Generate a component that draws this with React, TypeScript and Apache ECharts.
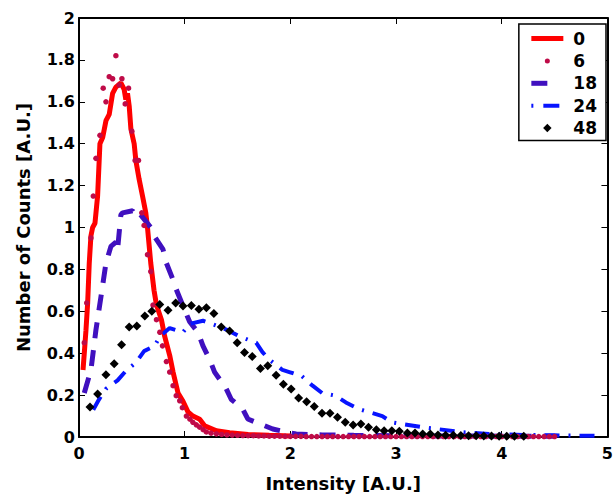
import React, { useEffect, useRef } from 'react';
import * as echarts from 'echarts';

const xTicks = { min: 0, max: 5, interval: 1 };
const yTicks = { min: 0, max: 2, interval: 0.2 };
const legendNames = ['0', '6', '18', '24', '48'];
const xTitle = 'Intensity [A.U.]';
const yTitle = 'Number of Counts [A.U.]';

// series "0" (red solid line)
const series0: [number, number][] = [
  [0.038, 0.32], [0.05, 0.4], [0.066, 0.51], [0.082, 0.64], [0.097, 0.83], [0.113, 0.96],
  [0.129, 1.0], [0.151, 1.02], [0.176, 1.15], [0.198, 1.4], [0.224, 1.43], [0.255, 1.51],
  [0.286, 1.54], [0.318, 1.64], [0.349, 1.67], [0.396, 1.69], [0.427, 1.66], [0.443, 1.61],
  [0.459, 1.64], [0.475, 1.58], [0.491, 1.47], [0.522, 1.4], [0.538, 1.32], [0.569, 1.23],
  [0.601, 1.15], [0.632, 1.07], [0.648, 1.0], [0.679, 0.83], [0.71, 0.7], [0.733, 0.63],
  [0.78, 0.56], [0.811, 0.48], [0.858, 0.39], [0.89, 0.31], [0.937, 0.21], [0.984, 0.17],
  [1.031, 0.12], [1.078, 0.1], [1.142, 0.085], [1.189, 0.054], [1.3, 0.03], [1.425, 0.02],
  [1.6, 0.012], [1.8, 0.008], [2.0, 0.005],
];

// series "6" (crimson dots)
const series6: [number, number][] = [
  [0.05, 0.45], [0.073, 0.64], [0.113, 0.95], [0.135, 1.15], [0.16, 1.33], [0.198, 1.44],
  [0.229, 1.665], [0.255, 1.6], [0.286, 1.72], [0.318, 1.71], [0.349, 1.82], [0.381, 1.68],
  [0.406, 1.71], [0.437, 1.59], [0.469, 1.665], [0.5, 1.46], [0.531, 1.32], [0.563, 1.32],
  [0.594, 1.07], [0.616, 1.01], [0.648, 0.87], [0.679, 0.79], [0.7, 0.63], [0.733, 0.56],
  [0.765, 0.5], [0.79, 0.435], [0.827, 0.36], [0.858, 0.31], [0.89, 0.245], [0.92, 0.197],
  [0.953, 0.173], [0.978, 0.14], [1.016, 0.1], [1.05, 0.085], [1.078, 0.07], [1.11, 0.058],
  [1.142, 0.047], [1.175, 0.035], [1.205, 0.024], [1.25, 0.018], [1.3, 0.015], [1.35, 0.012],
  [1.4, 0.01], [1.45, 0.009], [1.5, 0.008], [1.55, 0.007], [1.6, 0.006], [1.65, 0.006],
  [1.7, 0.005], [1.75, 0.005], [1.8, 0.004], [1.85, 0.004], [1.9, 0.004], [1.95, 0.003],
  [2.0, 0.003], [2.05, 0.003], [2.1, 0.003], [2.15, 0.002], [2.2, 0.002], [2.25, 0.002],
  [2.3, 0.002], [2.35, 0.002], [2.4, 0.002], [2.45, 0.002], [2.5, 0.002], [2.55, 0.002],
  [2.6, 0.002], [2.65, 0.002], [2.7, 0.002], [2.75, 0.002], [2.8, 0.002], [2.85, 0.002],
  [2.9, 0.002], [2.95, 0.002], [3.0, 0.002], [3.05, 0.002], [3.1, 0.002], [3.15, 0.002],
  [3.2, 0.002], [3.25, 0.002], [3.3, 0.002], [3.35, 0.002], [3.4, 0.002], [3.45, 0.002],
  [3.5, 0.002], [3.55, 0.002], [3.6, 0.002], [3.65, 0.002], [3.7, 0.002], [3.75, 0.002],
  [3.8, 0.002], [3.85, 0.002], [3.9, 0.002], [3.95, 0.002], [4.0, 0.002], [4.05, 0.002],
  [4.1, 0.002], [4.15, 0.002], [4.2, 0.002], [4.25, 0.002], [4.3, 0.002], [4.35, 0.002],
  [4.4, 0.002], [4.45, 0.002], [4.5, 0.002],
];

// series "18" (indigo dashed)
const series18: [number, number][] = [
  [0.05, 0.21], [0.113, 0.32], [0.16, 0.51], [0.208, 0.67], [0.255, 0.83], [0.302, 0.91],
  [0.349, 0.93], [0.365, 0.895], [0.396, 1.06], [0.412, 1.07], [0.507, 1.08], [0.538, 1.055],
  [0.569, 1.07], [0.679, 1.0], [0.71, 0.96], [0.795, 0.895], [0.827, 0.83], [0.89, 0.75],
  [0.92, 0.705], [0.984, 0.625], [1.047, 0.55], [1.125, 0.5], [1.173, 0.435], [1.236, 0.37],
  [1.283, 0.31], [1.393, 0.23], [1.44, 0.18], [1.55, 0.133], [1.597, 0.086], [1.755, 0.054],
  [1.833, 0.038], [2.054, 0.014], [2.3, 0.01], [2.6, 0.008], [3.0, 0.006], [3.5, 0.005],
  [4.0, 0.004], [4.5, 0.003],
];

// series "24" (blue dash-dot)
const series24: [number, number][] = [
  [0.135, 0.13], [0.19, 0.18], [0.255, 0.23], [0.365, 0.27], [0.443, 0.315], [0.538, 0.355],
  [0.616, 0.41], [0.717, 0.435], [0.764, 0.48], [0.858, 0.52], [0.984, 0.5], [1.047, 0.54],
  [1.173, 0.555], [1.31, 0.53], [1.406, 0.51], [1.519, 0.48], [1.676, 0.45], [1.736, 0.405],
  [1.8, 0.37], [1.925, 0.32], [1.99, 0.31], [2.11, 0.29], [2.21, 0.245], [2.3, 0.21],
  [2.43, 0.197], [2.525, 0.165], [2.65, 0.133], [2.87, 0.1], [2.96, 0.07], [3.25, 0.047],
  [3.62, 0.023], [3.88, 0.014], [4.2, 0.01], [4.5, 0.008], [4.95, 0.005],
];

// series "48" (black diamonds)
const series48: [number, number][] = [
  [0.104, 0.143], [0.176, 0.205], [0.255, 0.297], [0.333, 0.35], [0.403, 0.44], [0.475, 0.525],
  [0.547, 0.53], [0.623, 0.578], [0.689, 0.6], [0.764, 0.633], [0.842, 0.605], [0.915, 0.64],
  [0.984, 0.625], [1.063, 0.628], [1.135, 0.61], [1.205, 0.617], [1.276, 0.59], [1.346, 0.525],
  [1.425, 0.506], [1.497, 0.45], [1.566, 0.403], [1.639, 0.384], [1.717, 0.327], [1.786, 0.34],
  [1.865, 0.295], [1.934, 0.252], [2.007, 0.229], [2.078, 0.186], [2.154, 0.168], [2.226, 0.146],
  [2.299, 0.113], [2.375, 0.113], [2.446, 0.094], [2.519, 0.07], [2.594, 0.057], [2.667, 0.062],
  [2.739, 0.046], [2.814, 0.035], [2.887, 0.03], [2.96, 0.03], [3.031, 0.028], [3.107, 0.019],
  [3.179, 0.019], [3.252, 0.014], [3.324, 0.014], [3.396, 0.01], [3.469, 0.008], [3.541, 0.008],
  [3.613, 0.007], [3.686, 0.006], [3.758, 0.006], [3.83, 0.005], [3.903, 0.005], [3.975, 0.004],
  [4.047, 0.004], [4.12, 0.004], [4.208, 0.003],
];

const FONT = '"DejaVu Sans", Verdana, sans-serif';
const RED = '#ff0000';
const CRIMSON = '#bf0b48';
const INDIGO = '#4010bf';
const BLUE = '#0814ff';
const BLACK = '#000000';

// legend icons (padded boxes so the marks keep their own small size)
const DOT_ICON = 'path://M0,0 M10,10 M5,2.2 A2.8,2.8 0 1 1 5,7.8 A2.8,2.8 0 1 1 5,2.2 Z';
const DIAMOND_ICON = 'path://M0,0 M10,10 M5,0.3 L9.7,5 L5,9.7 L0.3,5 Z';

export default function App() {
  const ref = useRef<HTMLDivElement>(null);
  useEffect(() => {
    document.body.style.margin = '0';
    if (!ref.current) return;
    const chart = echarts.init(ref.current, undefined, { renderer: 'svg' });
    const axisLineStyle = { color: '#000', width: 2 };
    const tick = { show: true, inside: true, length: 6, lineStyle: { color: '#000', width: 1 } };
    const labelStyle = { color: '#000', fontFamily: FONT, fontWeight: 'bold' as const, fontSize: 16 };
    chart.setOption({
      animation: false,
      backgroundColor: '#fff',
      grid: { left: 79, right: 7, top: 18, bottom: 59, containLabel: false },
      xAxis: [
        {
          type: 'value', ...xTicks, position: 'bottom',
          name: xTitle, nameLocation: 'middle', nameGap: 37,
          nameTextStyle: { color: '#000', fontFamily: FONT, fontWeight: 'bold', fontSize: 18 },
          axisLine: { show: true, onZero: false, lineStyle: axisLineStyle },
          axisTick: tick, splitLine: { show: false },
          axisLabel: { ...labelStyle, margin: 8 },
        },
        {
          type: 'value', ...xTicks, position: 'top',
          axisLine: { show: true, onZero: false, lineStyle: axisLineStyle },
          axisTick: tick, splitLine: { show: false }, axisLabel: { show: false },
        },
      ],
      yAxis: [
        {
          type: 'value', ...yTicks, position: 'left',
          name: yTitle, nameLocation: 'middle', nameGap: 47,
          nameTextStyle: { color: '#000', fontFamily: FONT, fontWeight: 'bold', fontSize: 18 },
          axisLine: { show: true, onZero: false, lineStyle: axisLineStyle },
          axisTick: tick, splitLine: { show: false },
          axisLabel: { ...labelStyle, margin: 4 },
        },
        {
          type: 'value', ...yTicks, position: 'right',
          axisLine: { show: true, onZero: false, lineStyle: axisLineStyle },
          axisTick: tick, splitLine: { show: false }, axisLabel: { show: false },
        },
      ],
      legend: {
        show: true,
        orient: 'vertical',
        right: 10,
        top: 24,
        padding: [5, 9, 3, 10],
        itemGap: 3.4,
        itemWidth: 32,
        itemHeight: 9,
        backgroundColor: '#fff',
        borderColor: '#000',
        borderWidth: 1.5,
        borderRadius: 0,
        lineStyle: { width: 'inherit' },
        textStyle: { color: '#000', fontFamily: FONT, fontWeight: 'bold', fontSize: 17, lineHeight: 19, padding: [0, 0, 0, 5] },
        data: [
          { name: legendNames[0], itemStyle: { opacity: 0 } },
          { name: legendNames[1], icon: DOT_ICON },
          { name: legendNames[2], itemStyle: { opacity: 0 }, lineStyle: { type: [16, 20] } },
          { name: legendNames[3], itemStyle: { opacity: 0 }, lineStyle: { type: [2, 10, 16, 10] } },
          { name: legendNames[4], icon: DIAMOND_ICON },
        ],
      },
      series: [
        {
          name: legendNames[0], type: 'line', data: series0, symbol: 'none', clip: true,
          lineStyle: { color: RED, width: 5 }, itemStyle: { color: RED },
        },
        {
          name: legendNames[1], type: 'line', data: series6, symbol: 'circle', symbolSize: 5.5, showSymbol: true,
          clip: false, lineStyle: { width: 0, color: CRIMSON }, itemStyle: { color: CRIMSON, borderWidth: 0 },
        },
        {
          name: legendNames[2], type: 'line', data: series18, symbol: 'none', clip: true,
          lineStyle: { color: INDIGO, width: 5, type: [16, 12] }, itemStyle: { color: INDIGO },
        },
        {
          name: legendNames[3], type: 'line', data: series24, symbol: 'none', clip: true,
          lineStyle: { color: BLUE, width: 4, type: [15, 9, 2, 9] }, itemStyle: { color: BLUE },
        },
        {
          name: legendNames[4], type: 'line', data: series48, symbol: 'diamond', symbolSize: 9, showSymbol: true,
          clip: false, lineStyle: { width: 0, color: BLACK }, itemStyle: { color: BLACK, borderWidth: 0 },
        },
      ],
    });
    return () => chart.dispose();
  }, []);
  return <div ref={ref} style={{ width: 616, height: 497 }} />;
}
